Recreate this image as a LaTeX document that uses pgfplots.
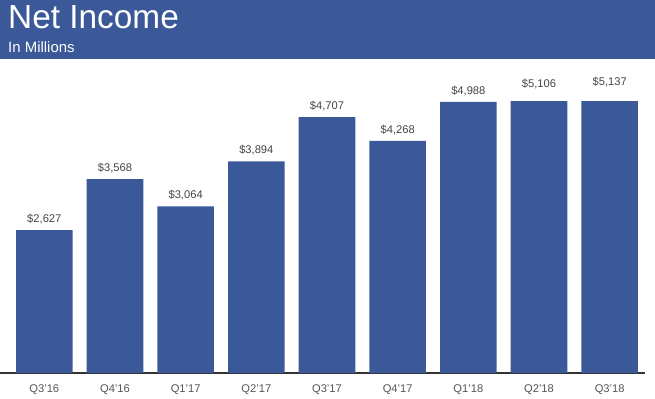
\documentclass[border=0pt]{standalone}
\usepackage{pgfplots}
\pgfplotsset{compat=1.18}
\usepackage{fontspec}
\setmainfont{Liberation Sans}
\definecolor{fbblue}{HTML}{3B5998}
\definecolor{lblgray}{HTML}{444444}
\definecolor{tickgray}{HTML}{555555}
\definecolor{axgray}{HTML}{333333}
\begin{document}
\begin{tikzpicture}[x=1bp,y=1bp]
\useasboundingbox (0,0) rectangle (655,398);
\fill[fbblue] (0,338.7) rectangle (655,398);
\node[anchor=base west, text=white, font=\fontsize{33.5}{38}\selectfont, inner sep=0] at (8,370) {Net Income};
\node[anchor=base west, text=white, font=\fontsize{15}{18}\selectfont, inner sep=0] at (8,346) {In Millions};
\begin{axis}[
  at={(0bp,25bp)}, anchor=south west, scale only axis,
  width=645bp, height=271.3bp,
  xmin=-0.627, xmax=8.5, ymin=0, ymax=4990,
  axis x line*=bottom, axis y line=none,
  x axis line style={draw=axgray, line width=1.2bp, -},
  xtick={0,...,8},
  xticklabels={Q3'16,Q4'16,Q1'17,Q2'17,Q3'17,Q4'17,Q1'18,Q2'18,Q3'18},
  major tick length=0pt,
  xticklabel style={font=\fontsize{11.2}{13}\selectfont, text=tickgray, anchor=base, yshift=-19bp, inner sep=0},
  ytick=\empty,
]
\addplot[ybar, bar width=0.8, fill=fbblue, draw=none] coordinates {
(0,2627) (1,3568) (2,3064) (3,3894) (4,4707) (5,4268) (6,4988) (7,5106) (8,5137)};
\end{axis}
\begin{axis}[
  at={(0bp,25bp)}, anchor=south west, scale only axis,
  width=645bp, height=271.3bp,
  xmin=-0.627, xmax=8.5, ymin=0, ymax=4990,
  axis lines=none, clip=false, xtick=\empty, ytick=\empty,
]
\addplot[draw=none, mark=none, point meta=explicit symbolic,
  nodes near coords,
  every node near coord/.append style={anchor=base, yshift=7.8bp, inner sep=0, font=\fontsize{11.2}{13}\selectfont, text=lblgray}]
coordinates {
(0,2627) [\$2,627]
(1,3568) [\$3,568]
(2,3064) [\$3,064]
(3,3894) [\$3,894]
(4,4707) [\$4,707]
(5,4268) [\$4,268]
(6,4988) [\$4,988]
(7,5106) [\$5,106]
(8,5137) [\$5,137]
};
\end{axis}
\end{tikzpicture}
\end{document}
